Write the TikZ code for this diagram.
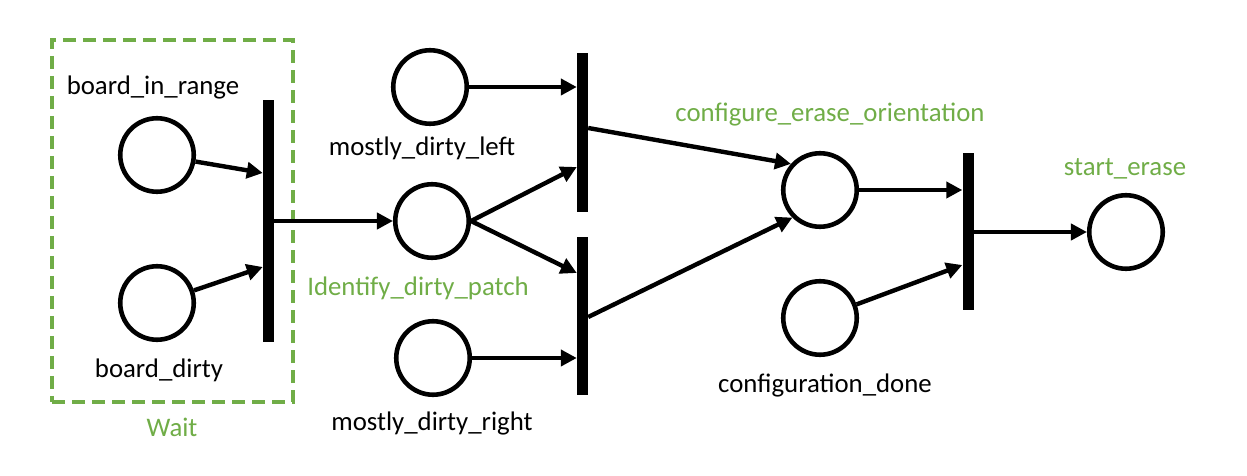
\documentclass[tikz,border=0pt]{standalone}
\usepackage{fontspec}
\setmainfont{Carlito}
\usetikzlibrary{arrows.meta}
\definecolor{grn}{HTML}{70AD47}
\begin{document}
\begin{tikzpicture}[x=1bp,y=-1bp,
  place/.style={circle,draw,line width=4.6bp,minimum size=73.5bp,inner sep=0pt},
  trans/.style={rectangle,fill=black,minimum width=11bp,inner sep=0pt},
  arc/.style={line width=4.4bp,-{Triangle[length=16bp,width=16bp]}},
  lbl/.style={font=\fontsize{26.8bp}{32bp}\selectfont,inner sep=0pt},
  glbl/.style={lbl,text=grn},
  group/.style={draw=grn,line width=4.6bp,dash pattern=on 13bp off 7bp,inner sep=0pt}]
\useasboundingbox (0,0) rectangle (1247,476);
% group box
\node[group,minimum width=241bp,minimum height=362bp] (waitbox) at (172.5,221) {};
% places
\node[place] (bir) at (157,155) {};
\node[place] (bd) at (157,303) {};
\node[place] (mdl) at (430,87) {};
\node[place] (idp) at (432,221) {};
\node[place] (mdr) at (433,358) {};
\node[place] (ceo) at (820,190) {};
\node[place] (cd) at (820,318) {};
\node[place] (se) at (1126,232) {};
% transitions
\node[trans,minimum height=242bp] (t1) at (268.5,221) {};
\node[trans,minimum height=159bp] (t2) at (582.5,132.5) {};
\node[trans,minimum height=158bp] (t3) at (582.5,316) {};
\node[trans,minimum height=157bp] (t4) at (968,231.5) {};
% labels
\node[lbl] (lbir) at (153,88) {board\_in\_range};
\node[lbl] (lbd) at (159,370) {board\_dirty};
\node[glbl] (lwait) at (172,427) {Wait};
\node[lbl] (lmdl) at (422,148) {mostly\_dirty\_left};
\node[glbl] (lidp) at (418,288) {Identify\_dirty\_patch};
\node[lbl] (lmdr) at (432,423) {mostly\_dirty\_right};
\node[glbl] (lceo) at (830,115) {configure\_erase\_orientation};
\node[lbl] (lcd) at (825,385) {configuration\_done};
\node[glbl] (lse) at (1125,169) {start\_erase};
% arcs
\draw[arc] (bir) -- (t1.west |- 0,173);
\draw[arc] (bd) -- (t1.west |- 0,267);
\draw[arc] (t1.east |- idp) -- (idp.west);
\draw[arc] (mdl) -- (t2.west |- mdl);
\draw[arc] (idp.east) -- (t2.west |- 0,167);
\draw[arc] (idp.east) -- (t3.west |- 0,273);
\draw[arc] (mdr) -- (t3.west |- mdr);
\draw[arc] (t2.east |- 0,128) -- (ceo.138);
\draw[arc] (t3.east |- 0,317) -- (ceo.225);
\draw[arc] (ceo) -- (t4.west |- ceo);
\draw[arc] (cd) -- (t4.west |- 0,265);
\draw[arc] (t4.east |- se) -- (se.west);
\end{tikzpicture}
\end{document}
